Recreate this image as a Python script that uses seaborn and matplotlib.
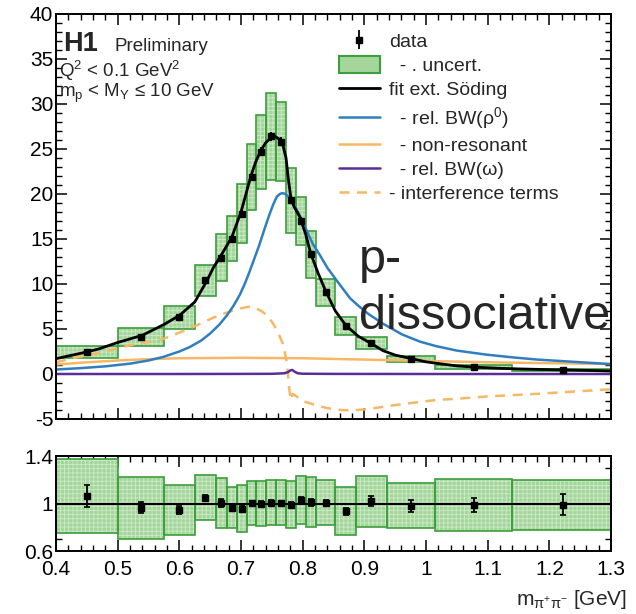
import numpy as np
import matplotlib
matplotlib.use("Agg")
import matplotlib.pyplot as plt
import matplotlib.patches as mpatches
from matplotlib.lines import Line2D
from matplotlib.ticker import MultipleLocator, FixedLocator, FuncFormatter
import seaborn as sns

# ---------------- data ----------------
bin_edges = [0.4, 0.5, 0.575, 0.625, 0.66, 0.677, 0.693, 0.709, 0.725, 0.741,
             0.757, 0.773, 0.789, 0.805, 0.821, 0.853, 0.886, 0.936, 1.015, 1.14, 1.3]
mass_points = [0.45, 0.537, 0.60, 0.642, 0.668, 0.685, 0.701, 0.717, 0.733, 0.749,
               0.765, 0.781, 0.797, 0.813, 0.837, 0.870, 0.911, 0.976, 1.078, 1.222]
data_vals = [2.45, 4.1, 6.3, 10.4, 12.9, 15.0, 17.8, 21.9, 24.7, 26.4,
             25.8, 19.3, 17.0, 13.3, 9.1, 5.3, 3.45, 1.65, 0.78, 0.45]
data_stat = [0.23, 0.2, 0.2, 0.25, 0.4, 0.4, 0.45, 0.45, 0.5, 0.5,
             0.5, 0.4, 0.4, 0.35, 0.25, 0.2, 0.14, 0.08, 0.05, 0.04]
data_unc = [0.65, 1.0, 1.3, 1.7, 2.6, 2.5, 3.3, 3.7, 4.1, 4.8,
            4.4, 3.6, 2.7, 2.6, 1.5, 1.0, 0.65, 0.33, 0.27, 0.15]

ratio_vals = [1.065, 0.965, 0.945, 1.05, 1.005, 0.965, 0.957, 1.003, 1.0, 1.008,
              1.005, 0.99, 1.03, 1.01, 1.005, 0.935, 1.02, 0.98, 0.99, 0.99]
ratio_stat = [0.095, 0.045, 0.03, 0.02, 0.035, 0.03, 0.03, 0.02, 0.02, 0.02,
              0.02, 0.02, 0.025, 0.03, 0.025, 0.03, 0.04, 0.05, 0.06, 0.09]
ratio_unc = [0.31, 0.26, 0.21, 0.19, 0.21, 0.175, 0.195, 0.185, 0.19, 0.19,
             0.19, 0.2, 0.2, 0.21, 0.19, 0.2, 0.215, 0.19, 0.22, 0.21]

fit_mass = [0.40, 0.42, 0.45, 0.47, 0.50, 0.54, 0.575, 0.60, 0.625, 0.645, 0.655,
            0.667, 0.685, 0.70, 0.708, 0.716, 0.724, 0.732, 0.74, 0.748, 0.755,
            0.762, 0.768, 0.773, 0.777, 0.781, 0.786, 0.795, 0.805, 0.813, 0.825,
            0.838, 0.853, 0.87, 0.89, 0.911, 0.93, 0.95, 0.977, 1.0, 1.027, 1.05,
            1.082, 1.12, 1.153, 1.19, 1.228, 1.26, 1.3]
fit_vals = [1.7, 2.0, 2.45, 2.8, 3.5, 4.3, 5.5, 6.5, 8.0, 10.4, 11.8,
            13.1, 15.2, 18.0, 20.0, 22.0, 23.6, 24.8, 25.7, 26.2, 26.4,
            26.1, 25.4, 24.0, 21.5, 19.5, 18.6, 17.5, 15.5, 13.4, 11.2,
            9.1, 7.0, 5.4, 4.2, 3.4, 2.6, 2.1, 1.7, 1.35, 1.1, 0.9,
            0.75, 0.63, 0.56, 0.5, 0.45, 0.4, 0.33]

rho_mass = [0.40, 0.44, 0.48, 0.52, 0.55, 0.574, 0.60, 0.617, 0.635, 0.65, 0.665,
            0.677, 0.688, 0.698, 0.706, 0.714, 0.722, 0.73, 0.738, 0.746, 0.752,
            0.758, 0.763, 0.767, 0.772, 0.777, 0.783, 0.79, 0.798, 0.806, 0.816,
            0.828, 0.84, 0.855, 0.877, 0.89, 0.906, 0.93, 0.961, 0.99, 1.016,
            1.05, 1.098, 1.14, 1.181, 1.24, 1.3]
rho_vals = [0.5, 0.65, 0.85, 1.15, 1.5, 1.9, 2.5, 3.0, 3.7, 4.5, 5.5,
            6.5, 7.6, 8.8, 10.0, 11.4, 12.9, 14.4, 16.1, 17.7, 18.8,
            19.7, 20.0, 20.1, 20.0, 19.7, 19.1, 18.3, 17.2, 16.0, 14.5,
            13.2, 11.8, 10.4, 8.4, 7.6, 6.7, 5.6, 4.4, 3.6, 3.1,
            2.6, 2.15, 1.85, 1.6, 1.35, 1.1]

nonres_mass = [0.4, 0.45, 0.5, 0.55, 0.6, 0.7, 0.8, 0.9, 1.0, 1.1, 1.2, 1.3]
nonres_vals = [1.05, 1.3, 1.5, 1.65, 1.75, 1.8, 1.75, 1.6, 1.45, 1.3, 1.2, 1.1]

omega_mass = [0.4, 0.6, 0.7, 0.75, 0.77, 0.776, 0.780, 0.783, 0.787, 0.792, 0.80, 0.85, 1.0, 1.3]
omega_vals = [0.0, 0.0, 0.01, 0.02, 0.08, 0.2, 0.4, 0.45, 0.25, 0.08, 0.03, 0.01, 0.0, 0.0]

interf_mass = [0.4, 0.43, 0.466, 0.5, 0.52, 0.55, 0.574, 0.6, 0.628, 0.65, 0.671,
               0.69, 0.70, 0.715, 0.725, 0.735, 0.745, 0.752, 0.76, 0.769, 0.775,
               0.778, 0.781, 0.784, 0.79, 0.80, 0.823, 0.84, 0.862, 0.88, 0.906,
               0.93, 0.961, 0.99, 1.016, 1.06, 1.098, 1.14, 1.181, 1.24, 1.3]
interf_vals = [1.3, 1.8, 2.3, 2.85, 3.2, 3.55, 3.9, 4.6, 5.4, 6.1, 6.7,
               7.1, 7.3, 7.5, 7.3, 6.9, 6.3, 5.6, 4.6, 3.2, 1.0,
               -1.6, -2.9, -2.2, -2.5, -3.0, -3.5, -3.8, -4.0, -4.05, -3.9,
               -3.65, -3.35, -3.1, -2.9, -2.7, -2.5, -2.35, -2.2, -1.95, -1.7]

x_ticks = [0.4, 0.5, 0.6, 0.7, 0.8, 0.9, 1.0, 1.1, 1.2, 1.3]
y_ticks_main = [-5, 0, 5, 10, 15, 20, 25, 30, 35, 40]
y_ticks_ratio = [0.6, 1.0, 1.4]

legend_labels = ["data", "  - . uncert.", "fit ext. Söding", "  - rel. BW(ρ$^{0}$)",
                 "  - non-resonant", "  - rel. BW(ω)", "- interference terms"]

# ---------------- style ----------------
sns.set_theme(style="ticks")
plt.rcParams["font.family"] = ["Liberation Sans", "DejaVu Sans"]
plt.rcParams["mathtext.fontset"] = "custom"
plt.rcParams["mathtext.rm"] = "Liberation Sans"
plt.rcParams["mathtext.it"] = "Liberation Sans:italic"
plt.rcParams["mathtext.bf"] = "Liberation Sans:bold"
plt.rcParams["axes.unicode_minus"] = False
plt.rcParams["hatch.linewidth"] = 0.6

C_BLUE = "#2f7fc0"
C_ORANGE = "#f6b865"
C_PURPLE = "#5b2d96"
C_GREEN_FILL = "#a4d69c"
C_GREEN_EDGE = "#3c9e3c"

fig = plt.figure(figsize=(6.36, 6.14), dpi=100)
ax = fig.add_axes([0.0881, 0.3176, 0.8726, 0.6596])
axr = fig.add_axes([0.0881, 0.1026, 0.8726, 0.1547])

edges = np.array(bin_edges)
widths = np.diff(edges)


def draw_boxes(a, centers, half):
    centers = np.asarray(centers)
    half = np.asarray(half)
    a.bar(edges[:-1], 2 * half, bottom=centers - half, width=widths, align="edge",
          color=C_GREEN_FILL, edgecolor="none", linewidth=0, zorder=1)
    a.bar(edges[:-1], 2 * half, bottom=centers - half, width=widths, align="edge",
          color="none", edgecolor=(1, 1, 1, 0.45), hatch="++++", linewidth=0, zorder=1.1)
    a.bar(edges[:-1], 2 * half, bottom=centers - half, width=widths, align="edge",
          color="none", edgecolor=C_GREEN_EDGE, linewidth=1.2, zorder=1.2)


# ---------------- main panel ----------------
draw_boxes(ax, data_vals, data_unc)
sns.lineplot(x=interf_mass, y=interf_vals, ax=ax, color=C_ORANGE, linewidth=1.8,
             linestyle=(0, (4, 3)), zorder=2)
sns.lineplot(x=nonres_mass, y=nonres_vals, ax=ax, color=C_ORANGE, linewidth=1.8, zorder=2)
sns.lineplot(x=omega_mass, y=omega_vals, ax=ax, color=C_PURPLE, linewidth=1.8, zorder=2)
sns.lineplot(x=rho_mass, y=rho_vals, ax=ax, color=C_BLUE, linewidth=1.8, zorder=2)
sns.lineplot(x=fit_mass, y=fit_vals, ax=ax, color="black", linewidth=2.0, zorder=3)
eb = ax.errorbar(mass_points, data_vals, yerr=data_stat, fmt="s", color="black",
                 ms=5, elinewidth=1.3, capsize=0, zorder=4)

ax.set_xlim(0.4, 1.3)
ax.set_ylim(-5, 40)
ax.set_xlabel("")
ax.set_ylabel("")
ax.xaxis.set_major_locator(FixedLocator(x_ticks))
ax.xaxis.set_minor_locator(MultipleLocator(0.02))
ax.yaxis.set_major_locator(FixedLocator(y_ticks_main))
ax.yaxis.set_minor_locator(MultipleLocator(1))
ax.tick_params(axis="x", which="both", labelbottom=False)
ax.yaxis.set_major_formatter(FuncFormatter(lambda v, p: f"{v:g}"))

# texts
ax.text(0.012, 0.926, "H1", transform=ax.transAxes, fontsize=19.5, fontweight="bold",
        va="center", ha="left")
ax.text(0.106, 0.919, "Preliminary", transform=ax.transAxes, fontsize=13.5,
        va="center", ha="left")
ax.text(0.006, 0.860, "Q$^{2}$ < 0.1 GeV$^{2}$", transform=ax.transAxes, fontsize=13.5,
        va="center", ha="left")
ax.text(0.006, 0.804, "m$_{\\mathrm{p}}$ < M$_{\\mathrm{Y}}$ ≤ 10 GeV", transform=ax.transAxes,
        fontsize=13.5, va="center", ha="left")
ax.text(0.546, 0.3605, "p-", transform=ax.transAxes, fontsize=35, va="baseline", ha="left")
ax.text(0.546, 0.2222, "dissociative", transform=ax.transAxes, fontsize=35,
        va="baseline", ha="left")

handles = [
    eb,
    mpatches.Patch(facecolor=C_GREEN_FILL, edgecolor=C_GREEN_EDGE, linewidth=1.5),
    Line2D([], [], color="black", lw=2.0),
    Line2D([], [], color=C_BLUE, lw=1.8),
    Line2D([], [], color=C_ORANGE, lw=1.8),
    Line2D([], [], color=C_PURPLE, lw=1.8),
    Line2D([], [], color=C_ORANGE, lw=1.8, linestyle=(0, (4, 3))),
]
ax.legend(handles, legend_labels, loc="upper left", bbox_to_anchor=(0.51, 0.955),
          frameon=False, fontsize=14, handlelength=2.1, handletextpad=0.45,
          labelspacing=0.28, borderpad=0, borderaxespad=0, handleheight=0.9)

# ---------------- ratio panel ----------------
draw_boxes(axr, ratio_vals, ratio_unc)
axr.axhline(1.0, color="black", linewidth=1.5, zorder=3)
axr.errorbar(mass_points, ratio_vals, yerr=ratio_stat, fmt="s", color="black",
             ms=5, elinewidth=1.3, capsize=2, capthick=1.2, zorder=4)
axr.set_xlim(0.4, 1.3)
axr.set_ylim(0.6, 1.4)
axr.xaxis.set_major_locator(FixedLocator(x_ticks))
axr.xaxis.set_minor_locator(MultipleLocator(0.02))
axr.yaxis.set_major_locator(FixedLocator(y_ticks_ratio))
axr.yaxis.set_minor_locator(MultipleLocator(0.1))
axr.xaxis.set_major_formatter(FuncFormatter(lambda v, p: f"{v:g}"))
axr.yaxis.set_major_formatter(FuncFormatter(lambda v, p: f"{v:g}"))

for a in (ax, axr):
    for s in a.spines.values():
        s.set_linewidth(1.4)
        s.set_color("black")
    a.tick_params(which="both", direction="in", top=True, right=True, colors="black",
                  labelsize=15, pad=2)
    a.tick_params(which="major", length=8, width=1.1)
    a.tick_params(which="minor", length=4, width=1.0)
    a.set_facecolor("white")
axr.tick_params(axis="x", which="both", pad=6.5)
axr.set_xlabel("m$_{\\mathrm{π^{+}π^{-}}}$ [GeV]", fontsize=15)
axr.xaxis.set_label_coords(1.029, -0.385)
axr.xaxis.label.set_ha("right")
axr.xaxis.label.set_va("top")

fig.savefig("out.png", dpi=100, facecolor="white")
